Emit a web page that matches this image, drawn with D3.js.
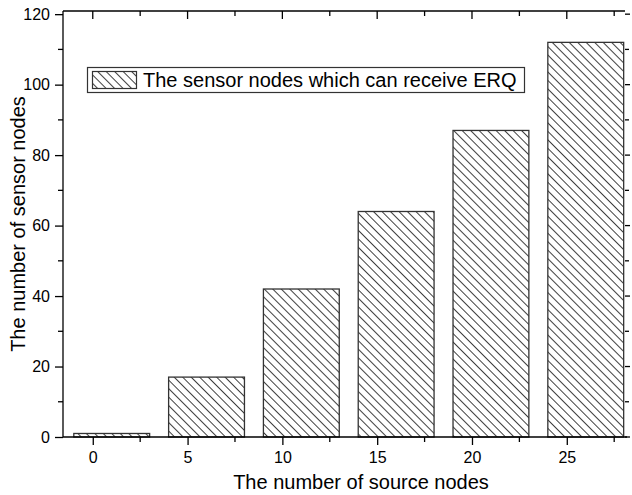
<!DOCTYPE html>
<html>
<head>
<meta charset="utf-8">
<script src="https://cdn.jsdelivr.net/npm/d3@7"></script>
<style>
  html, body { margin: 0; padding: 0; background: #fff; }
  svg { display: block; font-family: "Liberation Sans", Arial, sans-serif; }
</style>
</head>
<body>
<svg id="chart" width="632" height="495"></svg>
<script>
// Number of source nodes and the sensor nodes that can receive ERQ
const sourceNodes = [0, 5, 10, 15, 20, 25];
const receivingNodes = [1, 17, 42, 64, 87, 112];
const xTicks = [0, 5, 10, 15, 20, 25];
const yTicks = [0, 20, 40, 60, 80, 100, 120];
const legendLabel = "The sensor nodes which can receive ERQ";
const xTitle = "The number of source nodes";
const yTitle = "The number of sensor nodes";

const svg = d3.select("#chart");
const plot = { left: 63, right: 625, top: 11, bottom: 437 };

const x = d3.scaleLinear().domain([-1.57, 28.07]).range([plot.left, plot.right]);
const y = d3.scaleLinear().domain([0, 120.9]).range([plot.bottom, plot.top]);

// Diagonal hatch fill
const defs = svg.append("defs");
const pat = defs.append("pattern")
  .attr("id", "hatch")
  .attr("patternUnits", "userSpaceOnUse")
  .attr("width", 6).attr("height", 6)
  .attr("patternTransform", "rotate(-45)");
pat.append("rect").attr("width", 6).attr("height", 6).attr("fill", "#fff");
pat.append("line")
  .attr("x1", 0).attr("y1", 0).attr("x2", 0).attr("y2", 6)
  .attr("stroke", "#000").attr("stroke-width", 1.5);

// Bars span [v-1, v+3] on the x scale
svg.append("g").selectAll("rect")
  .data(sourceNodes.map((s, i) => ({ s, v: receivingNodes[i] })))
  .join("rect")
  .attr("x", d => x(d.s - 1))
  .attr("width", d => x(d.s + 3) - x(d.s - 1))
  .attr("y", d => y(d.v))
  .attr("height", d => y(0) - y(d.v))
  .attr("fill", "url(#hatch)")
  .attr("stroke", "#333")
  .attr("stroke-width", 1.3);

const xMinor = d3.range(2.5, 28, 5);
const yMinor = d3.range(10, 120, 20);

// Bottom axis
const gx = svg.append("g").attr("transform", `translate(0,${plot.bottom})`);
gx.append("line").attr("x1", plot.left).attr("x2", plot.right + 2)
  .attr("stroke", "#000").attr("stroke-width", 1.5);
gx.call(d3.axisBottom(x).tickValues(xTicks).tickSize(8).tickPadding(7))
  .call(g => g.select(".domain").remove())
  .call(g => g.selectAll("line").attr("stroke-width", 1.3))
  .call(g => g.selectAll("text").attr("font-size", 16).attr("fill", "#000")
    .attr("font-family", "Liberation Sans, Arial, sans-serif"));
gx.selectAll(".minor").data(xMinor).join("line").attr("class", "minor")
  .attr("x1", d => x(d)).attr("x2", d => x(d)).attr("y1", 0).attr("y2", 5)
  .attr("stroke", "#000").attr("stroke-width", 1.3);

// Top axis with inward ticks
const gt = svg.append("g").attr("transform", `translate(0,${plot.top})`);
gt.append("line").attr("x1", plot.left).attr("x2", plot.right)
  .attr("stroke", "#000").attr("stroke-width", 1.5);
gt.selectAll(".maj").data(xTicks).join("line").attr("class", "maj")
  .attr("x1", d => x(d)).attr("x2", d => x(d)).attr("y1", 0).attr("y2", 8)
  .attr("stroke", "#000").attr("stroke-width", 1.3);
gt.selectAll(".minor").data(xMinor).join("line").attr("class", "minor")
  .attr("x1", d => x(d)).attr("x2", d => x(d)).attr("y1", 0).attr("y2", 5)
  .attr("stroke", "#000").attr("stroke-width", 1.3);

// Left axis
const gy = svg.append("g").attr("transform", `translate(${plot.left},0)`);
gy.append("line").attr("y1", plot.top).attr("y2", plot.bottom)
  .attr("stroke", "#000").attr("stroke-width", 1.5);
gy.call(d3.axisLeft(y).tickValues(yTicks).tickSize(8).tickPadding(5))
  .call(g => g.select(".domain").remove())
  .call(g => g.selectAll("line").attr("stroke-width", 1.3))
  .call(g => g.selectAll("text").attr("font-size", 16).attr("fill", "#000")
    .attr("font-family", "Liberation Sans, Arial, sans-serif"));
gy.selectAll(".minor").data(yMinor).join("line").attr("class", "minor")
  .attr("y1", d => y(d)).attr("y2", d => y(d)).attr("x1", 0).attr("x2", -5)
  .attr("stroke", "#000").attr("stroke-width", 1.3);

// Right side ticks
const gr = svg.append("g").attr("transform", `translate(${plot.right},0)`);
gr.selectAll(".maj").data(yTicks).join("line").attr("class", "maj")
  .attr("y1", d => y(d)).attr("y2", d => y(d)).attr("x1", 0).attr("x2", 5)
  .attr("stroke", "#000").attr("stroke-width", 1.3);
gr.selectAll(".minor").data(yMinor).join("line").attr("class", "minor")
  .attr("y1", d => y(d)).attr("y2", d => y(d)).attr("x1", 0).attr("x2", 4)
  .attr("stroke", "#000").attr("stroke-width", 1.3);

// Axis titles
svg.append("text")
  .attr("x", 361).attr("y", 489)
  .attr("text-anchor", "middle").attr("font-size", 20).attr("fill", "#000")
  .text(xTitle);
svg.append("text")
  .attr("transform", `translate(25,${(plot.top + plot.bottom) / 2}) rotate(-90)`)
  .attr("text-anchor", "middle").attr("font-size", 20).attr("fill", "#000")
  .text(yTitle);

// Legend
const lg = svg.append("g");
lg.append("rect").attr("x", 87.5).attr("y", 67.5).attr("width", 437).attr("height", 25)
  .attr("fill", "#fff").attr("stroke", "#333").attr("stroke-width", 1.2);
lg.append("rect").attr("x", 92.5).attr("y", 71.5).attr("width", 44).attr("height", 17)
  .attr("fill", "url(#hatch)").attr("stroke", "#333").attr("stroke-width", 1.2);
lg.append("text").attr("x", 143).attr("y", 87)
  .attr("font-size", 20).attr("fill", "#000")
  .text(legendLabel);
</script>
</body>
</html>
